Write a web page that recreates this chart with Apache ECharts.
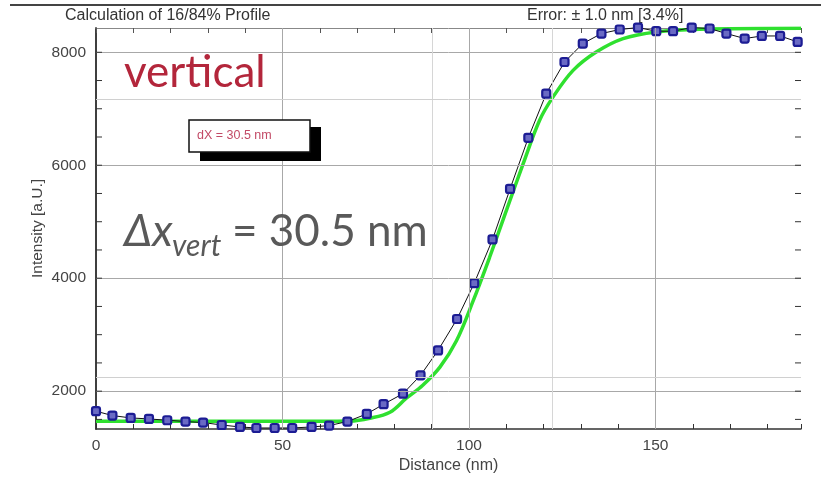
<!DOCTYPE html>
<html>
<head>
<meta charset="utf-8">
<title>Calculation of 16/84% Profile</title>
<script src="https://cdn.jsdelivr.net/npm/echarts@6/dist/echarts.min.js"></script>
<style>
  html, body { margin: 0; padding: 0; background: #fff; }
  #chart { width: 821px; height: 481px; }
</style>
</head>
<body>
<div id="chart"></div>
<script>
// Measured edge profile: distance (nm) and intensity (a.U.)
const profileX = [0.0, 4.4, 9.3, 14.2, 19.1, 24.0, 28.7, 33.7, 38.6, 43.0,
                  47.9, 52.6, 57.8, 62.5, 67.4, 72.6, 77.1, 82.3, 87.0, 91.7,
                  96.8, 101.4, 106.3, 111.0, 115.9, 120.7, 125.6, 130.5, 135.5, 140.4,
                  145.3, 150.2, 154.7, 159.7, 164.5, 169.0, 173.9, 178.5, 183.4, 188.1];
const profileY = [1645, 1568, 1526, 1508, 1485, 1462, 1444, 1401, 1366, 1348,
                  1348, 1348, 1366, 1391, 1462, 1597, 1769, 1955, 2280, 2722,
                  3278, 3912, 4686, 5580, 6486, 7267, 7828, 8154, 8332, 8403,
                  8438, 8373, 8373, 8438, 8421, 8332, 8243, 8289, 8289, 8183];

// Fitted edge function
const fitX = [0, 20, 40, 60, 68.0, 73.4, 78.8, 83.2, 87.6, 92.2, 96.6, 101.1,
              105.5, 110.0, 114.5, 118.9, 122.5, 127.9, 134.1, 141.3, 150.2, 161.8, 189];
const fitY = [1467, 1467, 1467, 1467, 1470, 1520, 1627, 1875, 2106, 2426, 2887, 3597,
              4366, 5195, 6024, 6793, 7206, 7680, 8005, 8243, 8360, 8408, 8426];

// Axis ranges, ticks and labels
const xMin = 0, xMax = 189;
const yMin = 1330, yMax = 8430;
const xLabelValues = [0, 50, 100, 150];
const yLabelValues = [2000, 4000, 6000, 8000];
const yTickValues = [1500, 2000, 2500, 3000, 3500, 4000, 4500, 5000, 5500, 6000, 6500, 7000, 7500, 8000];

// Grid lines drawn across the plot
const gridX = [50, 100, 150];
const gridY = [2000, 4000, 6000, 8000];
const gridXFaint = [90.2, 122.2];
const gridYFaint = [2250, 7170];

const profileData = profileX.map((x, i) => [x, profileY[i]]);
const fitData = fitX.map((x, i) => [x, fitY[i]]);

const chart = echarts.init(document.getElementById('chart'), null, { renderer: 'canvas' });

const FONT = '"Liberation Sans", Arial, sans-serif';
const axisFont = { color: '#444', fontSize: 15.5, fontFamily: FONT };
const axisLineStyle = { show: true, lineStyle: { color: '#333', width: 1.5 } };

const gridLineData = [
  ...gridX.map(v => ({ xAxis: v, lineStyle: { color: '#a8a8a8' } })),
  ...gridY.map(v => ({ yAxis: v, lineStyle: { color: '#a8a8a8' } })),
  ...gridXFaint.map(v => ({ xAxis: v, lineStyle: { color: '#d6d6d6' } })),
  ...gridYFaint.map(v => ({ yAxis: v, lineStyle: { color: '#d0d0d0' } }))
];

// Inward-pointing tick marks on the left and right frame edges
function renderYTicks(params, api) {
  const v = api.value(0);
  const left = api.coord([xMin, v]);
  const right = api.coord([xMax, v]);
  const len = 6;
  const style = { stroke: '#333', lineWidth: 1 };
  return {
    type: 'group',
    children: [
      { type: 'line', shape: { x1: left[0], y1: left[1], x2: left[0] + len, y2: left[1] }, style },
      { type: 'line', shape: { x1: right[0], y1: right[1], x2: right[0] - len, y2: right[1] }, style }
    ]
  };
}

chart.setOption({
  animation: false,
  backgroundColor: '#fff',
  grid: { left: 96, right: 20, top: 28, bottom: 52, containLabel: false },
  xAxis: [
    {
      type: 'value', position: 'bottom', min: xMin, max: xMax, interval: 10,
      name: 'Distance (nm)', nameLocation: 'middle', nameGap: 29, nameMoveOverlap: false,
      nameTextStyle: { ...axisFont, fontSize: 16 },
      axisLine: axisLineStyle,
      axisTick: { inside: true, length: 5, lineStyle: { color: '#333' } },
      axisLabel: {
        ...axisFont, margin: 9,
        formatter: v => (xLabelValues.includes(v) ? String(v) : '')
      },
      splitLine: { show: false }
    },
    {
      type: 'value', position: 'top', min: xMin, max: xMax, interval: 10,
      axisLine: { show: true, lineStyle: { color: '#888', width: 1 } },
      axisTick: { inside: true, length: 5, lineStyle: { color: '#555' } },
      axisLabel: { show: false },
      splitLine: { show: false }
    }
  ],
  yAxis: [
    {
      type: 'value', position: 'left', min: yMin, max: yMax,
      name: 'Intensity [a.U.]', nameLocation: 'middle', nameGap: 50, nameRotate: 90,
      nameMoveOverlap: false,
      nameTextStyle: axisFont,
      axisLine: axisLineStyle,
      axisTick: { show: false },
      axisLabel: { ...axisFont, margin: 10, customValues: yLabelValues, formatter: v => String(v) },
      splitLine: { show: false }
    },
    {
      type: 'value', position: 'right', min: yMin, max: yMax,
      axisLine: axisLineStyle,
      axisTick: { show: false },
      axisLabel: { show: false },
      splitLine: { show: false }
    }
  ],
  series: [
    {
      name: 'grid', type: 'line', data: [], silent: true,
      markLine: {
        silent: true, symbol: 'none', label: { show: false },
        lineStyle: { type: 'solid', width: 1 },
        data: gridLineData
      }
    },
    {
      name: 'yTicks', type: 'custom', silent: true, clip: false, z: 6,
      data: yTickValues.map(v => [v]),
      encode: { y: 0 },
      renderItem: renderYTicks
    },
    {
      name: 'fit', type: 'line', data: fitData, smooth: 0.35,
      showSymbol: false, z: 3,
      lineStyle: { color: '#2fe02f', width: 3.5 }
    },
    {
      name: 'profile', type: 'line', data: profileData, clip: false, z: 4,
      symbol: 'roundRect', symbolSize: 8, showSymbol: true,
      lineStyle: { color: '#111', width: 1 },
      itemStyle: { color: '#6a6ac4', borderColor: '#1c1c94', borderWidth: 2.2 }
    }
  ],
  graphic: [
    { type: 'line', shape: { x1: 10, y1: 5, x2: 821, y2: 5 }, style: { stroke: '#444', lineWidth: 2 } },
    { type: 'text', left: 65, top: 8,
      style: { text: 'Calculation of 16/84% Profile', fill: '#333', font: '16px ' + FONT } },
    { type: 'text', left: 527, top: 8,
      style: { text: 'Error: \u00b1 1.0 nm [3.4%]', fill: '#333', font: '16px ' + FONT } },
    // dX annotation box with drop shadow
    { type: 'rect', shape: { x: 200, y: 127, width: 121, height: 34 }, style: { fill: '#000' }, z: 10 },
    { type: 'rect', shape: { x: 189, y: 120, width: 121, height: 32 },
      style: { fill: '#fff', stroke: '#111', lineWidth: 1.5 }, z: 11 },
    { type: 'text', x: 197, y: 136, z: 12,
      style: { text: 'dX = 30.5 nm', fill: '#c24a66', font: '12.5px ' + FONT, verticalAlign: 'middle' } },
    // Slide captions
    { type: 'text', x: 124, y: 73, z: 12,
      style: { text: 'vertical', fill: '#b3263b', font: '44px Lato, "Open Sans", sans-serif', verticalAlign: 'middle' } },
    { type: 'text', x: 124, y: 232, z: 12,
      style: { text: '\u0394x', fill: '#595959', font: 'italic 44px Lato, "Open Sans", sans-serif', verticalAlign: 'middle' } },
    { type: 'text', x: 172, y: 246, z: 12,
      style: { text: 'vert', fill: '#595959', font: 'italic 30px Lato, "Open Sans", sans-serif', verticalAlign: 'middle' } },
    { type: 'text', x: 232, y: 232, z: 12,
      style: { text: '= 30.5 nm', fill: '#595959', font: '44px Lato, "Open Sans", sans-serif', verticalAlign: 'middle' } }
  ]
});
</script>
</body>
</html>
